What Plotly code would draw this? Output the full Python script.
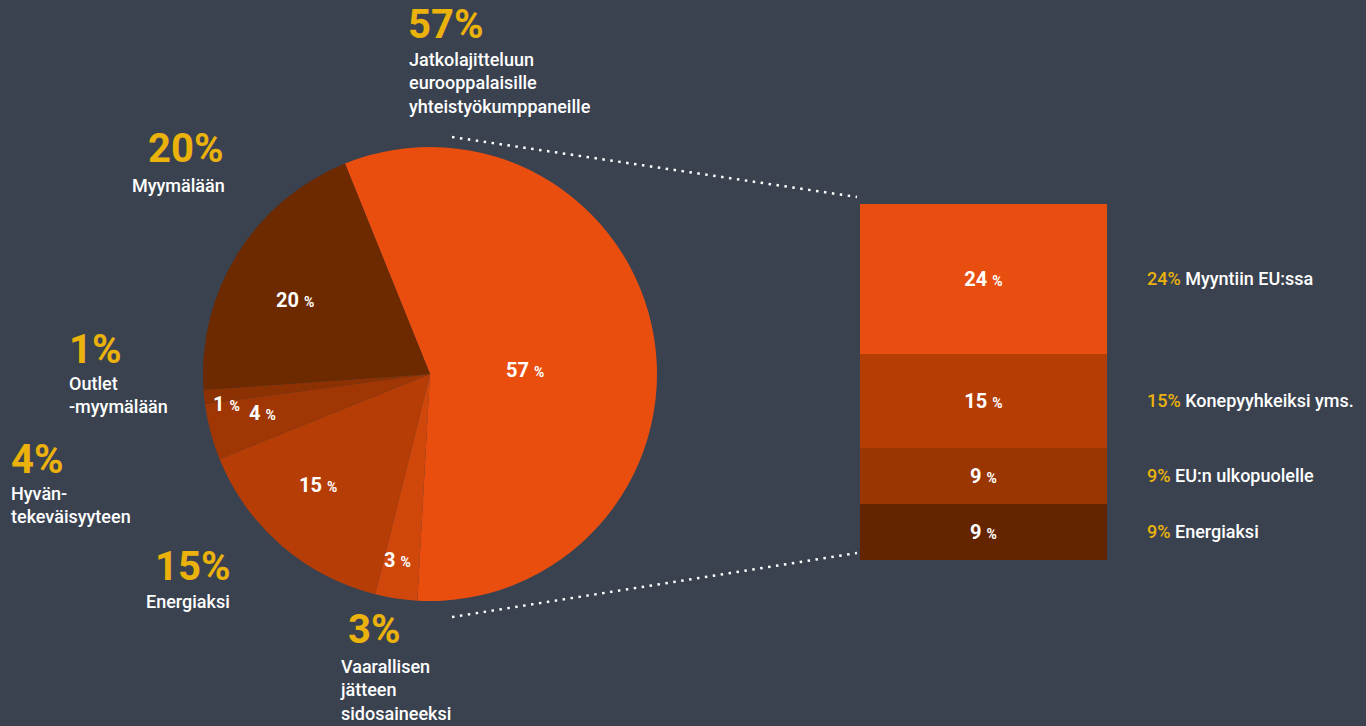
import plotly.graph_objects as go

W, H = 1366, 726

# ---------------- data ----------------
pie_labels = ["Jatkolajitteluun eurooppalaisille yhteistyökumppaneille",
              "Vaarallisen jätteen sidosaineeksi",
              "Energiaksi",
              "Hyväntekeväisyyteen",
              "Outlet-myymälään",
              "Myymälään"]
pie_values = [57, 3, 15, 4, 1, 20]
pie_desc = ["Jatkolajitteluun<br>eurooppalaisille<br>yhteistyökumppaneille",
            "Vaarallisen<br>jätteen<br>sidosaineeksi",
            "Energiaksi",
            "Hyvän-<br>tekeväisyyteen",
            "Outlet<br>-myymälään",
            "Myymälään"]
pie_colors = ["#E94E0F", "#D0470B", "#B63D05", "#A03604", "#8C3102", "#6D2900"]

bar_labels = ["Energiaksi", "EU:n ulkopuolelle", "Konepyyhkeiksi yms.", "Myyntiin EU:ssa"]
bar_values = [9, 9, 15, 24]
bar_colors = ["#652400", "#9A3602", "#B53E05", "#E84E0F"]

# ---------------- style ----------------
BG = "#3A4250"
YEL = "#EBB20B"
FONT = "Roboto"


def px(x):
    return x / W


def py(y):
    return 1 - y / H


fig = go.Figure()

# Pie: centre (430, 374), radius 227 px
cx, cy, r = 430, 374, 227
fig.add_trace(go.Pie(
    labels=pie_labels, values=pie_values, sort=False, direction="clockwise",
    rotation=-22, marker=dict(colors=pie_colors, line=dict(width=0)),
    textinfo="none", hoverinfo="label+percent", showlegend=False,
    domain=dict(x=[px(cx - r), px(cx + r)], y=[py(cy + r), py(cy - r)]),
))

# Stacked bar
for lab, val, col in zip(bar_labels, bar_values, bar_colors):
    fig.add_trace(go.Bar(
        x=[0], y=[val], name=lab, width=1, marker=dict(color=col, line=dict(width=0)),
        text=[val], texttemplate="%{y} <span style='font-size:14px'>%</span>",
        textposition="inside", insidetextanchor="middle", textangle=0,
        textfont=dict(family=FONT, size=20, color="white", weight="bold"),
        showlegend=False, hoverinfo="name+y",
    ))

annotations = []

# inside-pie value labels (pixel positions from the reference)
inside_pos = [(525, 370), (397, 560), (318, 485), (262, 413), (226, 404), (295, 300)]
for v, (x, y) in zip(pie_values, inside_pos):
    annotations.append(dict(
        x=px(x), y=py(y), xref="paper", yref="paper", xanchor="center", yanchor="middle",
        text=f"{v} <span style='font-size:14px'>%</span>", showarrow=False,
        font=dict(family=FONT, size=20, color="white", weight="bold"),
    ))

# outer labels: (number x, number y-centre, desc x, desc top, anchor)
outer_pos = [
    (407, 24, 408, 48, "left"),
    (347, 629, 339, 655, "left"),
    (231, 566, 231, 590, "right"),
    (10, 459, 10, 482, "left"),
    (68, 349, 68, 372, "left"),
    (224, 148, 226, 174, "right"),
]
for v, d, (nx, ny, dx, dy, anc) in zip(pie_values, pie_desc, outer_pos):
    annotations.append(dict(
        x=px(nx), y=py(ny), xref="paper", yref="paper", xanchor=anc, yanchor="middle",
        text=f"{v}%", showarrow=False, borderpad=0,
        font=dict(family=FONT, size=40, color=YEL, weight="bold"),
    ))
    annotations.append(dict(
        x=px(dx), y=py(dy), xref="paper", yref="paper", xanchor=anc, yanchor="top",
        text=d, showarrow=False, align=anc, borderpad=0,
        font=dict(family=FONT, size=18, color="white", weight=500),
    ))

# labels to the right of the bar, centred on each segment
base = 0
for lab, val in zip(bar_labels, bar_values):
    annotations.append(dict(
        x=px(1145), y=base + val / 2, xref="paper", yref="y", xanchor="left", yanchor="middle",
        text=f"<span style='color:{YEL}'>{val}%</span> {lab}", showarrow=False,
        font=dict(family=FONT, size=18, color="white", weight=500),
    ))
    base += val

# dotted connector lines
dots = dict(color="white", width=2.5, dash="2.5px,5.5px")
shapes = [
    dict(type="line", xref="paper", yref="paper", x0=px(452), y0=py(137), x1=px(857), y1=py(197), line=dots),
    dict(type="line", xref="paper", yref="paper", x0=px(452), y0=py(617), x1=px(857), y1=py(553), line=dots),
]

fig.update_layout(
    width=W, height=H, margin=dict(l=0, r=0, t=0, b=0),
    paper_bgcolor=BG, plot_bgcolor="rgba(0,0,0,0)",
    barmode="stack", bargap=0,
    xaxis=dict(domain=[px(860), px(1107)], range=[-0.5, 0.5], visible=False, fixedrange=True),
    yaxis=dict(domain=[py(560), py(204)], range=[0, sum(bar_values)], visible=False, fixedrange=True),
    annotations=annotations, shapes=shapes,
    font=dict(family=FONT, color="white"),
)

fig.write_html(
    "out.html",
    config={"displayModeBar": False},
    post_script="document.body.style.margin='0';document.body.style.overflow='hidden';"
                f"document.body.style.background='{BG}';",
)
